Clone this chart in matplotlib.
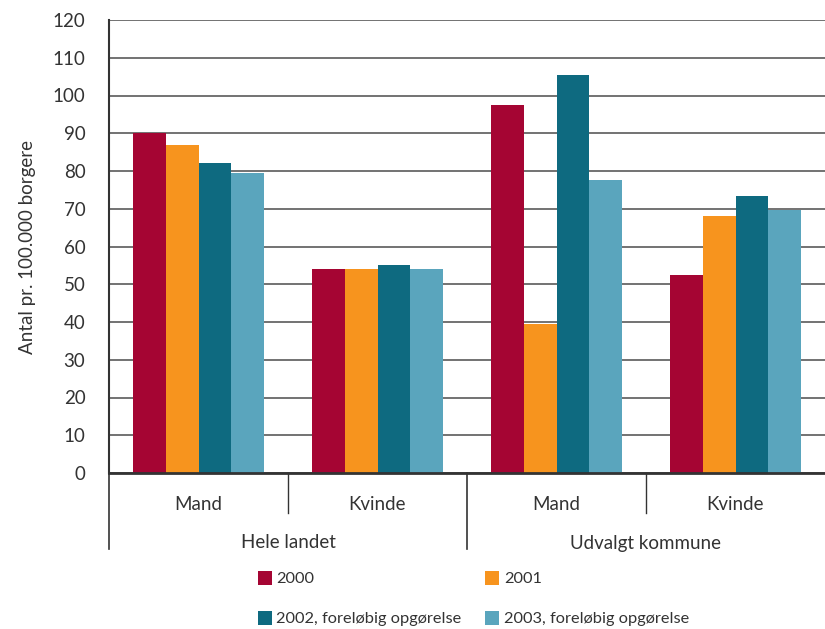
import numpy as np
import matplotlib
matplotlib.use("Agg")
import matplotlib.pyplot as plt
from matplotlib.lines import Line2D
from matplotlib.transforms import blended_transform_factory

plt.rcParams['font.family'] = ['Lato', 'DejaVu Sans']

subgroups = ["Mand", "Kvinde", "Mand", "Kvinde"]
groups = ["Hele landet", "Udvalgt kommune"]
series_names = ["2000", "2001", "2002, foreløbig opgørelse", "2003, foreløbig opgørelse"]
v2000 = [90, 54, 97.5, 52.4]
v2001 = [87, 54, 39.5, 68]
v2002 = [82, 55, 105.4, 73.4]
v2003 = [79.5, 54, 77.6, 69.7]
colors = ["#A50533", "#F7941E", "#0E6A80", "#5AA5BD"]
yticks = list(range(0, 121, 10))

txt = "#333333"
fig = plt.figure(figsize=(8.25, 6.29), dpi=100)
ax = fig.add_axes([109/825, 1 - 473/629, 1 - 109/825, (473 - 20)/629])

x = np.arange(len(subgroups))
w = 0.184
all_vals = [v2000, v2001, v2002, v2003]
for i, (vals, c, name) in enumerate(zip(all_vals, colors, series_names)):
    ax.bar(x + (i - 1.5) * w, vals, width=w, color=c, label=name, zorder=3, linewidth=0)

ax.set_xlim(-0.5, 3.5)
ax.set_ylim(0, 120)
ax.set_yticks(yticks)
ax.yaxis.grid(True, color="#5a5a5a", linewidth=1.2, zorder=1)
ax.set_axisbelow(True)
ax.tick_params(axis='y', length=0, labelsize=13.5, labelcolor=txt, pad=17)
ax.set_xticks([])
for s in ["top", "right"]:
    ax.spines[s].set_visible(False)
ax.spines["left"].set_color("#333333")
ax.spines["left"].set_linewidth(1.5)
ax.spines["bottom"].set_color("#333333")
ax.spines["bottom"].set_linewidth(2)
ax.spines["bottom"].set_zorder(4)
ax.set_ylabel("Antal pr. 100.000 borgere", fontsize=13.5, color=txt, labelpad=12)

trans = blended_transform_factory(ax.transData, ax.transAxes)
h = 453.0
def yf(py):
    return -(py - 473) / h

# subgroup separators
for xs in [0.5, 2.5]:
    ax.add_line(Line2D([xs, xs], [0, yf(513)], transform=trans, color="#333333", lw=1, clip_on=False))
for xs in [-0.5, 1.5]:
    ax.add_line(Line2D([xs, xs], [0, yf(549)], transform=trans, color="#333333", lw=1.2, clip_on=False))
for xi, lab in zip(x, subgroups):
    ax.text(xi, yf(505), lab, transform=trans, ha="center", va="center", fontsize=13.5, color=txt)
for gi, g in enumerate(groups):
    ax.text(gi * 2 + 0.5, yf(543), g, transform=trans, ha="center", va="center", fontsize=13.5, color=txt)

handles = [Line2D([], [], marker="s", linestyle="none", markersize=9.5, color=c, markeredgewidth=0) for c in colors]
order = [0, 2, 1, 3]  # row-wise fill
fig.legend([handles[i] for i in order], [series_names[i] for i in order],
           loc="upper left", bbox_to_anchor=(258/825, 1 - 572/629),
           ncol=2, frameon=False, fontsize=11.8, handlelength=0.8, handletextpad=0.3,
           columnspacing=1.5, labelspacing=1.55, labelcolor=txt, borderaxespad=0, borderpad=0)

fig.savefig("out.png", dpi=100)
